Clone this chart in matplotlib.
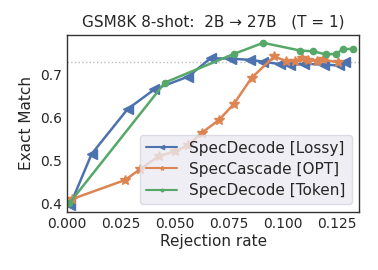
import matplotlib
matplotlib.use('Agg')
import matplotlib.pyplot as plt
import seaborn as sns

sns.set_style("white")
colors = sns.color_palette("deep")

# SpecDecode [Lossy]
lossy_x = [0.0013, 0.0113, 0.028, 0.0404, 0.0561, 0.0665, 0.076, 0.085, 0.0909, 0.0987,
           0.1033, 0.110, 0.1193, 0.126, 0.1288]
lossy_y = [0.395, 0.515, 0.620, 0.666, 0.696, 0.739, 0.738, 0.735, 0.731, 0.725,
           0.723, 0.726, 0.724, 0.722, 0.729]

# SpecCascade [OPT]
opt_x = [0.002, 0.0268, 0.0337, 0.0425, 0.050, 0.0561, 0.0623, 0.0705, 0.0773, 0.0855,
         0.096, 0.1017, 0.1055, 0.1087, 0.1118, 0.1157, 0.1186, 0.1258]
opt_y = [0.409, 0.454, 0.479, 0.510, 0.521, 0.536, 0.564, 0.595, 0.632, 0.693,
         0.743, 0.732, 0.733, 0.739, 0.735, 0.732, 0.736, 0.729]

# SpecDecode [Token]
token_x = [0.001, 0.0453, 0.0773, 0.0909, 0.108, 0.1141, 0.120, 0.1246, 0.128, 0.1327]
token_y = [0.400, 0.682, 0.749, 0.775, 0.757, 0.755, 0.748, 0.749, 0.760, 0.761]

big_model_acc = 0.73

fig = plt.figure(figsize=(3.78, 2.70), dpi=100)
ax = fig.add_axes([0.178, 0.216, 0.7725, 0.6555])

ax.axhline(big_model_acc, color='#bbbbbb', linestyle=':', linewidth=1)
ax.plot(lossy_x, lossy_y, color=colors[0], marker='<', markersize=7.5, linewidth=1.8,
        label="SpecDecode [Lossy]")
ax.plot(opt_x, opt_y, color=colors[1], marker='*', markersize=7.5, linewidth=1.8,
        label="SpecCascade [OPT]")
ax.plot(token_x, token_y, color=colors[2], marker='o', markersize=4.5, linewidth=1.8,
        label="SpecDecode [Token]")

ax.set_xlim(0, 0.1355)
ax.set_ylim(0.380, 0.794)
ax.set_xticks([0.0, 0.025, 0.05, 0.075, 0.1, 0.125])
ax.set_xticklabels(["0.000", "0.025", "0.050", "0.075", "0.100", "0.125"])
ax.set_yticks([0.4, 0.5, 0.6, 0.7])
ax.tick_params(labelsize=10, length=0, pad=4, colors='#262626')
for s in ax.spines.values():
    s.set_color('#333333')
    s.set_linewidth(1)

ax.set_xlabel("Rejection rate", fontsize=11, color='#262626', labelpad=2)
ax.set_ylabel("Exact Match", fontsize=11, color='#262626', labelpad=4)
ax.set_title("GSM8K 8-shot:  2B \u2192 27B   (T = 1)", fontsize=11, color='#262626', pad=6)

leg = ax.legend(loc='lower right', fontsize=11, markerscale=0.4, facecolor='#eaeaf2',
                edgecolor='#d5d5de', framealpha=0.8, handlelength=2, borderpad=0.4,
                labelspacing=0.4)
for line in leg.get_lines():
    line.set_linewidth(1.5)
for t in leg.get_texts():
    t.set_color('#262626')

plt.savefig("out.png", dpi=100)
